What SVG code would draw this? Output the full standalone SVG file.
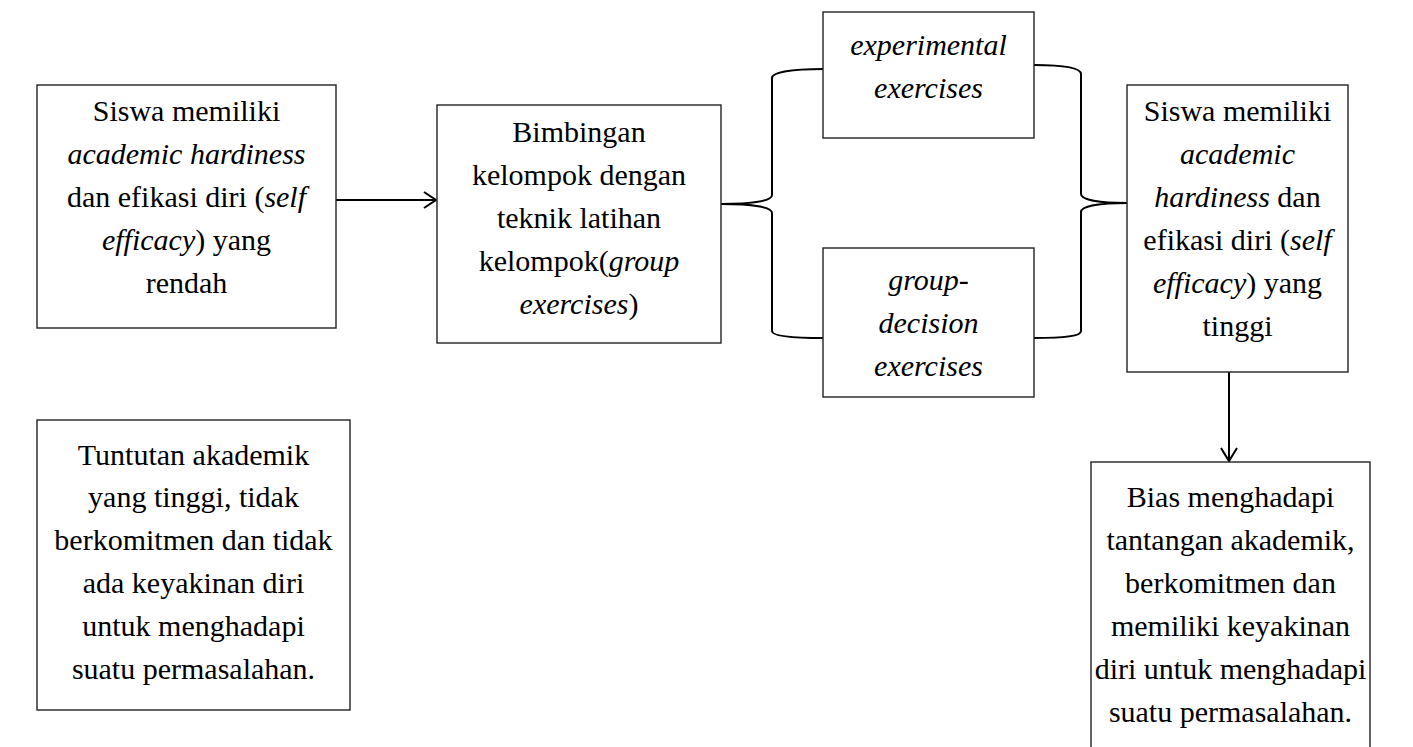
<svg xmlns="http://www.w3.org/2000/svg" width="1413" height="747" viewBox="0 0 1413 747">
<style>
.box{fill:#fff;stroke:#222;stroke-width:1.4}
.t{font-family:"Liberation Serif","Times New Roman",serif;font-size:30px;fill:#000;text-anchor:middle}
.i{font-style:italic}
.c{fill:none;stroke:#000;stroke-width:2}
</style>
<rect width="1413" height="747" fill="#fff"/>
<g id="connectors">
<line class="c" x1="336" y1="200" x2="436" y2="200"/>
<polyline class="c" points="424,192 436,200 424,208"/>
<path class="c" d="M824,69 C792,69 772,72 772,78 L772,195 C772,201 752,204 721,204 C752,204 772,207 772,213 L772,331 C772,336 792,338 824,338"/>
<path class="c" d="M1034,65 C1066,65 1081,68 1081,74 L1081,194 C1081,200 1100,203 1127,203 C1100,203 1081,206 1081,212 L1081,331 C1081,336 1066,338 1034,338"/>
<line class="c" x1="1229" y1="372" x2="1229" y2="461"/>
<polyline class="c" points="1221,448 1229,461 1237,448"/>
</g>
<g id="n1">
<rect class="box" x="37" y="85" width="299" height="243"/>
<text class="t" x="186.5" y="121">Siswa memiliki</text>
<text class="t i" x="186.5" y="164">academic hardiness</text>
<text class="t" x="186.5" y="207">dan efikasi diri (<tspan class="i">self</tspan></text>
<text class="t" x="186.5" y="250"><tspan class="i">efficacy</tspan>) yang</text>
<text class="t" x="186.5" y="293">rendah</text>
</g>
<g id="n2">
<rect class="box" x="437" y="105" width="284" height="238"/>
<text class="t" x="579" y="142">Bimbingan</text>
<text class="t" x="579" y="185">kelompok dengan</text>
<text class="t" x="579" y="228">teknik latihan</text>
<text class="t" x="579" y="271">kelompok(<tspan class="i">group</tspan></text>
<text class="t" x="579" y="314"><tspan class="i">exercises</tspan>)</text>
</g>
<g id="n3">
<rect class="box" x="823" y="12" width="211" height="126"/>
<text class="t i" x="928.5" y="55">experimental</text>
<text class="t i" x="928.5" y="98">exercises</text>
</g>
<g id="n4">
<rect class="box" x="823" y="248" width="211" height="149"/>
<text class="t i" x="928.5" y="290">group-</text>
<text class="t i" x="928.5" y="333">decision</text>
<text class="t i" x="928.5" y="376">exercises</text>
</g>
<g id="n5">
<rect class="box" x="1127" y="85" width="221" height="287"/>
<text class="t" x="1237.5" y="121">Siswa memiliki</text>
<text class="t i" x="1237.5" y="164">academic</text>
<text class="t" x="1237.5" y="207"><tspan class="i">hardiness</tspan> dan</text>
<text class="t" x="1237.5" y="250">efikasi diri (<tspan class="i">self</tspan></text>
<text class="t" x="1237.5" y="293"><tspan class="i">efficacy</tspan>) yang</text>
<text class="t" x="1237.5" y="336">tinggi</text>
</g>
<g id="n6">
<rect class="box" x="1091" y="462" width="279" height="300"/>
<text class="t" x="1230.5" y="507">Bias menghadapi</text>
<text class="t" x="1230.5" y="550">tantangan akademik,</text>
<text class="t" x="1230.5" y="593">berkomitmen dan</text>
<text class="t" x="1230.5" y="636">memiliki keyakinan</text>
<text class="t" x="1230.5" y="679">diri untuk menghadapi</text>
<text class="t" x="1230.5" y="722">suatu permasalahan.</text>
</g>
<g id="n7">
<rect class="box" x="37" y="420" width="313" height="290"/>
<text class="t" x="193.5" y="465">Tuntutan akademik</text>
<text class="t" x="193.5" y="507">yang tinggi, tidak</text>
<text class="t" x="193.5" y="550">berkomitmen dan tidak</text>
<text class="t" x="193.5" y="593">ada keyakinan diri</text>
<text class="t" x="193.5" y="636">untuk menghadapi</text>
<text class="t" x="193.5" y="679">suatu permasalahan.</text>
</g>
</svg>
